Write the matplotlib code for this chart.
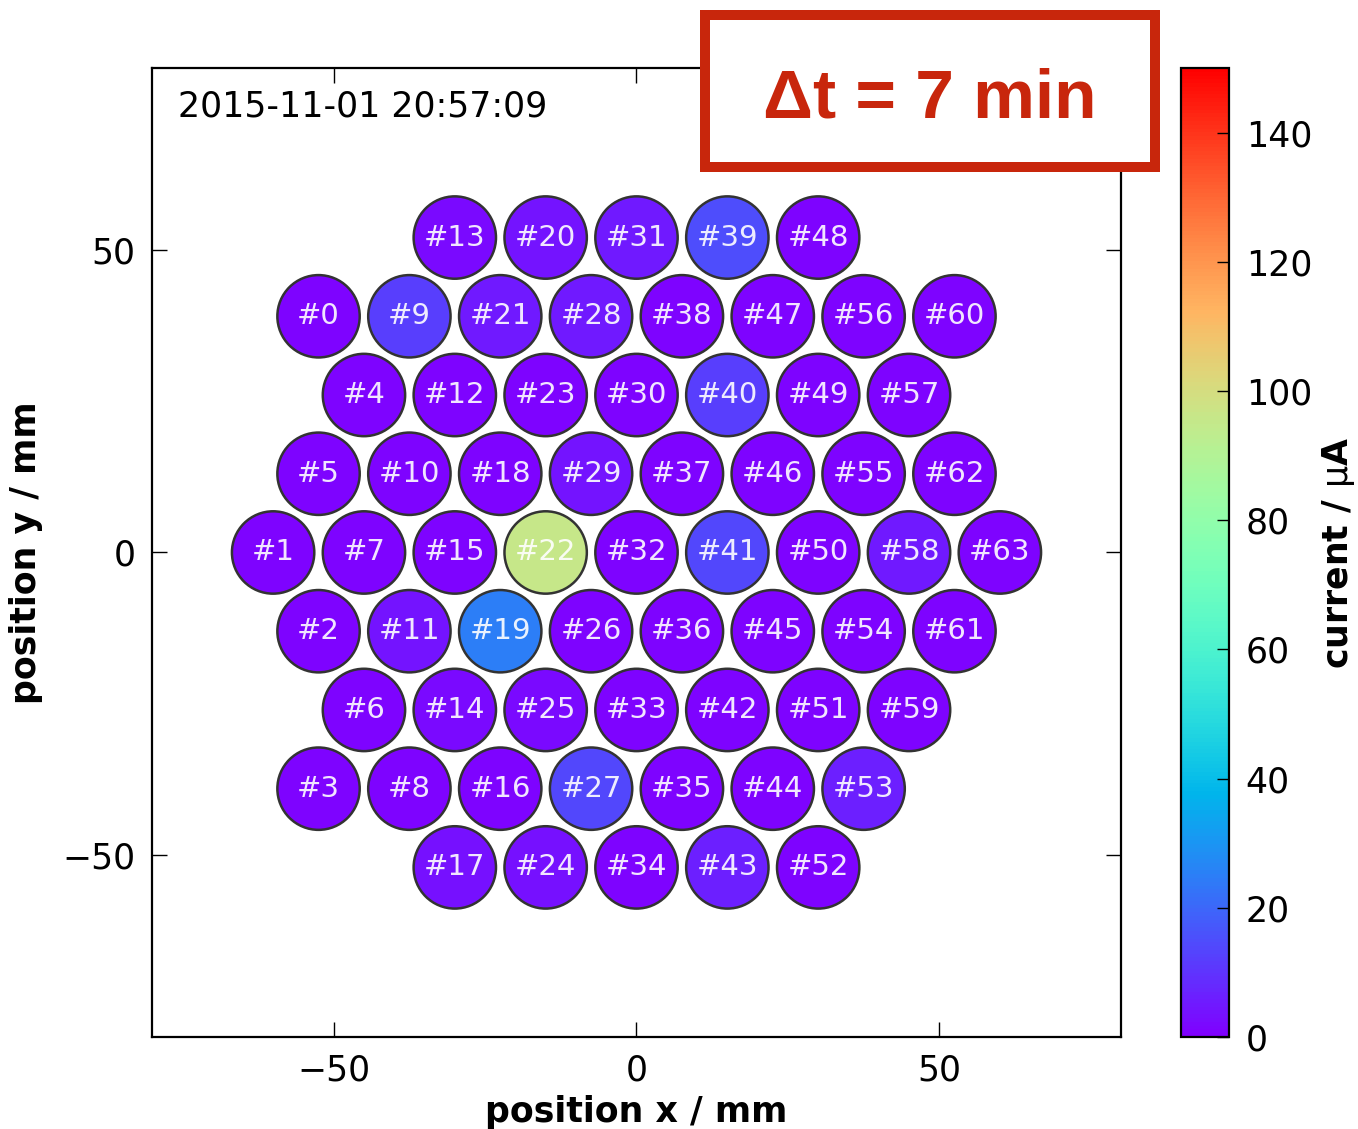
import matplotlib
matplotlib.use("Agg")
import matplotlib.pyplot as plt
import matplotlib.patches as p
from matplotlib.collections import PatchCollection

plt.rcParams['font.family'] = ['DejaVu Sans']

# channel positions (mm) and measured current (uA), index = channel number
pos_x = [-52.5, -60, -52.5, -52.5, -45, -52.5, -45, -45, -37.5, -37.5,
         -37.5, -37.5, -30, -30, -30, -30, -22.5, -30, -22.5, -22.5,
         -15, -22.5, -15, -15, -15, -15, -7.5, -7.5, -7.5, -7.5,
         0, 0, 0, 0, 0, 7.5, 7.5, 7.5, 7.5, 15,
         15, 15, 15, 15, 22.5, 22.5, 22.5, 22.5, 30, 30,
         30, 30, 30, 37.5, 37.5, 37.5, 37.5, 45, 45, 45,
         52.5, 52.5, 52.5, 60]
pos_y = [39, 0, -13, -39, 26, 13, -26, 0, -39, 39,
         13, -13, 26, 52, -26, 0, -39, -52, 13, -13,
         52, 39, 0, 26, -52, -26, -13, -39, 39, 13,
         26, 52, 0, -26, -52, -39, -13, 13, 39, 52,
         26, 0, -26, -52, -39, -13, 13, 39, 52, 26,
         0, -26, -52, -39, -13, 13, 39, 26, 0, -26,
         39, -13, 13, 0]
current = [1, 1, 1, 1, 1, 1, 1, 1, 1, 12,
           1, 4, 1, 2, 2, 1, 1, 3, 1, 25,
           4, 5, 96, 1, 3, 2, 1, 14, 5, 4,
           1, 5, 1, 1, 1, 1, 1, 1, 1, 15,
           12, 14, 1, 6, 1, 1, 1, 1, 1, 1,
           1, 1, 1, 6, 1, 1, 1, 1, 5, 1,
           1, 1, 1, 1]
cbar_ticks = [0, 20, 40, 60, 80, 100, 120, 140]
timestamp = "2015-11-01 20:57:09"
dt_label = "\u0394t = 7 min"

fig = plt.figure(figsize=(13.58, 11.29), dpi=100)
ax = fig.add_axes([0.1119, 0.0815, 0.7136, 0.8583])
cax = fig.add_axes([0.8697, 0.0815, 0.0353, 0.8583])

circles = [p.Circle((x, y), 6.8) for x, y in zip(pos_x, pos_y)]
pc = PatchCollection(circles, cmap='rainbow', edgecolor='#333333', linewidth=1.8)
pc.set_array(current)
pc.set_clim(0, 150)
ax.add_collection(pc)

for ch, (x, y) in enumerate(zip(pos_x, pos_y)):
    ax.text(x, y, "#%d" % ch, ha='center', va='center', fontsize=21,
            color='white', alpha=0.9)

ax.set_xlim(-80, 80)
ax.set_ylim(-80, 80)
ax.set_aspect('equal')
ax.set_xticks([-50, 0, 50])
ax.set_yticks([-50, 0, 50])
ax.set_xticklabels(['\u221250', '0', '50'])
ax.set_yticklabels(['\u221250', '0', '50'])
ax.tick_params(direction='in', length=11, width=1, labelsize=25, pad=12,
               top=True, right=True)
for s in ax.spines.values():
    s.set_linewidth(1.6)
ax.set_xlabel("position x / mm", fontsize=25, fontweight='bold', labelpad=5)
ax.set_ylabel("position y / mm", fontsize=25, fontweight='bold', labelpad=14)

ax.text(0.027, 0.96, timestamp, transform=ax.transAxes, ha='left',
        va='center', fontsize=25)

cb = fig.colorbar(pc, cax=cax, ticks=cbar_ticks)
cb.outline.set_linewidth(1.6)
cax.tick_params(direction='in', length=9, width=1, labelsize=25, pad=12)
cb.set_label("current / $\\mathrm{\\mu}$A", fontsize=25, fontweight='bold',
             labelpad=6)

fig.add_artist(p.Rectangle((0.519, 0.8521), 0.3314, 0.1346, transform=fig.transFigure,
                           fill=True, facecolor='white', edgecolor='#c8260c',
                           linewidth=7.2, zorder=10))
fig.text(0.685, 0.8955, dt_label, ha='center', va='baseline', fontsize=50,
         fontweight='bold', color='#c8260c', family=['Liberation Sans', 'DejaVu Sans'],
         zorder=11)

fig.savefig("out.png", dpi=100)
